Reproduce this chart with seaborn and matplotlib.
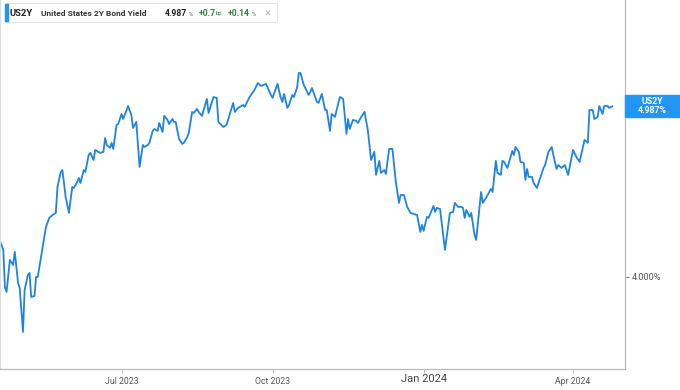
import matplotlib
matplotlib.use("Agg")
import matplotlib.pyplot as plt
import matplotlib.patches as mpatches
import matplotlib.transforms as mtransforms
import pandas as pd
import seaborn as sns

# US 2Y yield (days after 2023-04-18, yield in %)
start_date = "2023-04-18"
day_offsets = [0, 2, 3, 4, 6, 8, 9, 11, 12, 14, 15, 17, 18, 19, 21, 22, 23, 25, 28, 30,
               32, 34, 35, 37, 38, 40, 42, 44, 45, 47, 48, 49, 51, 52, 54, 55, 57, 58, 61, 63,
               64, 65, 67, 68, 69, 71, 72, 74, 75, 78, 80, 81, 83, 85, 87, 88, 90, 91, 93, 94,
               96, 97, 99, 100, 102, 103, 105, 106, 107, 109, 111, 112, 114, 115, 117, 118, 120, 121, 123, 126,
               127, 130, 132, 133, 136, 138, 142, 143, 145, 148, 149, 152, 155, 157, 159, 162, 165, 166, 169, 171,
               172, 173, 175, 176, 178, 179, 181, 182, 183, 185, 188, 189, 190, 193, 194, 196, 198, 199, 201, 202,
               204, 207, 209, 211, 212, 213, 215, 217, 218, 220, 222, 224, 226, 228, 229, 231, 232, 234, 235, 237,
               239, 241, 243, 244, 246, 248, 250, 254, 256, 257, 258, 260, 261, 264, 265, 266, 268, 271, 274, 276,
               277, 279, 281, 282, 283, 284, 286, 287, 289, 290, 293, 294, 296, 299, 300, 302, 303, 305, 306, 307,
               309, 312, 313, 314, 316, 317, 319, 320, 321, 322, 324, 325, 327, 331, 332, 334, 336, 337, 339, 340,
               342, 344, 346, 349, 351, 353, 355, 356, 358, 359, 361, 362, 364, 365, 367, 368, 370, 371, 373]
yields = [4.208, 4.156, 3.942, 3.913, 4.098, 4.069, 4.145, 3.965, 3.936, 3.682, 3.925, 4.012, 4.023, 3.884, 3.890, 4.000, 4.000, 4.116, 4.289, 4.341,
          4.358, 4.370, 4.520, 4.607, 4.618, 4.462, 4.370, 4.520, 4.514, 4.549, 4.572, 4.543, 4.618, 4.607, 4.705, 4.717, 4.676, 4.734, 4.717, 4.723,
          4.803, 4.763, 4.746, 4.775, 4.740, 4.879, 4.884, 4.942, 4.913, 4.988, 4.936, 4.861, 4.896, 4.636, 4.763, 4.751, 4.763, 4.775, 4.844, 4.855,
          4.844, 4.890, 4.838, 4.931, 4.908, 4.884, 4.913, 4.896, 4.896, 4.798, 4.769, 4.775, 4.809, 4.832, 4.954, 4.948, 4.971, 4.954, 4.931, 5.029,
          4.948, 5.040, 5.035, 4.896, 4.867, 4.879, 5.006, 4.954, 4.977, 4.994, 4.983, 5.040, 5.081, 5.121, 5.104, 5.116, 5.052, 5.035, 5.116, 5.035,
          5.012, 5.058, 4.977, 4.994, 5.052, 5.040, 5.098, 5.179, 5.179, 5.110, 5.052, 5.069, 5.092, 5.012, 5.006, 5.058, 4.965, 4.965, 4.844, 4.942,
          4.925, 5.040, 5.029, 4.827, 4.913, 4.855, 4.908, 4.902, 4.890, 4.925, 4.954, 4.850, 4.676, 4.723, 4.590, 4.671, 4.601, 4.618, 4.595, 4.740,
          4.740, 4.555, 4.428, 4.474, 4.474, 4.405, 4.370, 4.358, 4.260, 4.301, 4.266, 4.347, 4.341, 4.410, 4.376, 4.399, 4.393, 4.156, 4.370, 4.376,
          4.428, 4.405, 4.405, 4.399, 4.341, 4.387, 4.347, 4.370, 4.243, 4.214, 4.491, 4.428, 4.457, 4.509, 4.491, 4.671, 4.601, 4.590, 4.671, 4.665,
          4.630, 4.728, 4.705, 4.751, 4.723, 4.665, 4.659, 4.561, 4.624, 4.578, 4.578, 4.543, 4.514, 4.630, 4.647, 4.723, 4.751, 4.705, 4.624, 4.647,
          4.630, 4.647, 4.590, 4.734, 4.694, 4.665, 4.751, 4.792, 4.775, 4.965, 4.965, 4.913, 4.925, 4.988, 4.942, 4.988, 4.988, 4.977, 4.987]

tick_dates = ["2023-07-01", "2023-10-01", "2024-01-01", "2024-04-01"]
tick_labels = ["Jul 2023", "Oct 2023", "Jan 2024", "Apr 2024"]
ytick_values = [4.0]
ytick_labels = ["4.000%"]
symbol = "US2Y"
name = "United States 2Y Bond Yield"
last_price = "4.987"
change_bp = "+0.7"
change_pct = "+0.14"

line_color = "#1f84e0"
label_color = "#2196f3"
green = "#2e8540"


def main():
    dates = pd.Timestamp(start_date) + pd.to_timedelta(day_offsets, unit="D")
    df = pd.DataFrame({"Date": dates, "Yield": yields})

    sns.set_style("white")
    plt.rcParams["font.family"] = ["Roboto", "DejaVu Sans"]

    fig = plt.figure(figsize=(6.8, 3.9), dpi=100)
    ax = fig.add_axes([0.0, 0.054, 0.919, 0.946])

    sns.lineplot(data=df, x="Date", y="Yield", ax=ax, color=line_color, linewidth=1.3)

    ax.set_xlim(pd.Timestamp(start_date), pd.Timestamp(start_date) + pd.Timedelta(days=380.6))
    ax.set_ylim(3.468, 5.601)
    ax.set_xlabel("")
    ax.set_ylabel("")

    # spines
    ax.spines["top"].set_visible(False)
    ax.spines["left"].set_color("#d8dde2")
    ax.spines["left"].set_linewidth(1.5)
    ax.spines["right"].set_color("#b8bcc0")
    ax.spines["bottom"].set_color("#b8bcc0")
    ax.spines["right"].set_linewidth(0.9)
    ax.spines["bottom"].set_linewidth(0.9)

    # x ticks
    ax.set_xticks(pd.to_datetime(tick_dates))
    ax.set_xticklabels(tick_labels)
    ax.tick_params(axis="x", direction="out", length=3, width=0.8, color="#b8bcc0",
                   labelsize=6.3, labelcolor="#555555", pad=3, bottom=True)
    for lbl in ax.get_xticklabels():
        if lbl.get_text().startswith("Jan"):
            lbl.set_fontsize(8)
            lbl.set_color("#444444")
            lbl.set_y(0.01)

    # y ticks on the right
    ax.yaxis.tick_right()
    ax.set_yticks(ytick_values)
    ax.set_yticklabels(ytick_labels)
    ax.tick_params(axis="y", direction="out", length=3, width=0.8, color="#888888",
                   labelsize=6.5, labelcolor="#555555", pad=2, right=True, left=False)

    # last value label on the right axis
    last = yields[-1]
    trans = mtransforms.blended_transform_factory(ax.transAxes, ax.transData)
    ax.add_patch(mpatches.Rectangle((1.0, last - 0.064), 0.088, 0.128, transform=trans,
                                    color=label_color, clip_on=False, zorder=5))
    ax.text(1.044, last, f"{symbol}\n{last:.3f}%", transform=trans, ha="center", va="center",
            fontsize=6.3, color="white", fontweight="bold", linespacing=1.0, zorder=6)

    # header box
    W, H = 680.0, 390.0
    fig.patches.append(mpatches.Rectangle((5 / W, 1 - 22 / H), 272 / W, 19 / H,
                                          transform=fig.transFigure, facecolor="white",
                                          edgecolor="#e3e3e3", linewidth=0.8))
    fig.patches.append(mpatches.Rectangle((5 / W, 1 - 21 / H), 2.5 / W, 17 / H,
                                          transform=fig.transFigure, color=label_color))
    yc = 1 - 13 / H
    fig.text(10 / W, yc, symbol, fontsize=6.8, fontweight="bold", color="#222222", va="center")
    fig.text(41 / W, yc, name, fontsize=6.0, fontweight="bold", color="#333333", va="center")
    fig.text(165 / W, yc, last_price, fontsize=6.2, fontweight="bold", color="#222222", va="center")
    fig.text(189 / W, yc - 1 / H, "%", fontsize=4.2, color="#555555", va="center")
    fig.text(199 / W, yc, change_bp, fontsize=6.2, fontweight="bold", color=green, va="center")
    fig.text(216 / W, yc - 1 / H, "bp", fontsize=4.2, color=green, va="center")
    fig.text(228 / W, yc, change_pct, fontsize=6.2, fontweight="bold", color=green, va="center")
    fig.text(252 / W, yc - 1 / H, "%", fontsize=4.2, color=green, va="center")
    fig.text(264 / W, yc, "\u00d7", fontsize=8.5, color="#bbbbbb", va="center")

    fig.savefig("out.png", dpi=100)


if __name__ == "__main__":
    main()
